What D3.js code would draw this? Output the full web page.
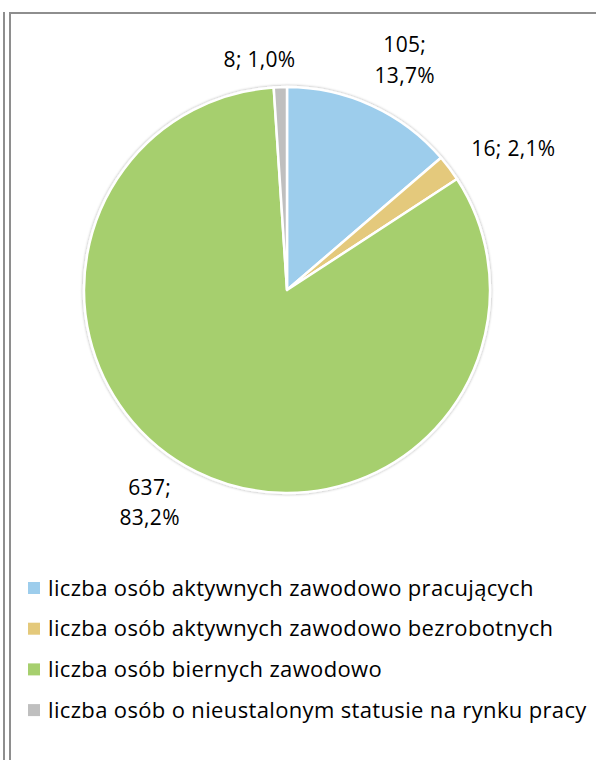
<!DOCTYPE html>
<html>
<head>
<meta charset="utf-8">
<script src="https://cdn.jsdelivr.net/npm/d3@7"></script>
<style>
  body { margin: 0; background: #fff; }
  svg text { font-family: "Open Sans", sans-serif; fill: #000; }
</style>
</head>
<body>
<div id="chart"></div>
<script>
var categories = [
	"liczba osób aktywnych zawodowo pracujących",
	"liczba osób aktywnych zawodowo bezrobotnych",
	"liczba osób biernych zawodowo",
	"liczba osób o nieustalonym statusie na rynku pracy"
];
var values = [105, 16, 637, 8];
var percentLabels = ["13,7%", "2,1%", "83,2%", "1,0%"];
var colors = ["#9DCDEC", "#E4C97B", "#A6CF6E", "#BFBFBF"];

var W = 597, H = 760;
var CX = 287, CY = 290, R = 203;
var LABEL_R = 258;

var svg = d3.select("#chart")
			.append("svg")
			.attr("width", W)
			.attr("height", H);

// frame lines
svg.append("line").attr("x1", 4).attr("x2", 4).attr("y1", 12).attr("y2", H)
	.style("stroke", "#8e8e8e").style("stroke-width", 2);
svg.append("line").attr("x1", 10).attr("x2", 10).attr("y1", 12).attr("y2", H)
	.style("stroke", "#8e8e8e").style("stroke-width", 2);
svg.append("line").attr("x1", 9).attr("x2", W - 1).attr("y1", 13).attr("y2", 13)
	.style("stroke", "#8e8e8e").style("stroke-width", 2);

var defs = svg.append("defs");
var f = defs.append("filter").attr("id", "shadow")
			.attr("x", "-10%").attr("y", "-10%").attr("width", "120%").attr("height", "120%");
f.append("feGaussianBlur").attr("in", "SourceAlpha").attr("stdDeviation", 1.5).attr("result", "b");
f.append("feComponentTransfer").attr("in", "b").attr("result", "b2")
	.append("feFuncA").attr("type", "linear").attr("slope", 0.35);
var m = f.append("feMerge");
m.append("feMergeNode").attr("in", "b2");
m.append("feMergeNode").attr("in", "SourceGraphic");

var pie = d3.pie().sort(null).value(function(d) { return d; });
var arcs = pie(values);
var arc = d3.arc().innerRadius(0).outerRadius(R);
var labelArc = d3.arc().innerRadius(LABEL_R).outerRadius(LABEL_R);

var g = svg.append("g")
			.attr("transform", "translate(" + CX + "," + CY + ")");

g.append("g").attr("filter", "url(#shadow)")
	.selectAll("path")
	.data(arcs)
	.enter().append("path")
	.attr("d", arc)
	.style("fill", function(d, i) { return colors[i]; })
	.style("stroke", "#fff")
	.style("stroke-width", 2.5)
	.style("stroke-linejoin", "round");

// label layout tweaks (excel "best fit" placement)
var wrapped = [true, false, true, false];
var nudge = [[10, 0], [20, 14], [-22, -23], [-19, 28]];

var labels = g.selectAll("text.lbl")
			.data(arcs)
			.enter().append("text")
			.attr("class", "lbl")
			.attr("text-anchor", "middle")
			.style("font-size", "21px")
			.style("letter-spacing", "0.3px")
			.attr("transform", function(d, i) {
				var c = labelArc.centroid(d);
				return "translate(" + (c[0] + nudge[i][0]) + "," + (c[1] + nudge[i][1]) + ")";
			});

labels.each(function(d, i) {
	var t = d3.select(this);
	if (wrapped[i]) {
		t.append("tspan").attr("x", 0).attr("dy", "-0.15em").text(values[i] + ";");
		t.append("tspan").attr("x", 0).attr("dy", "1.45em").text(percentLabels[i]);
	} else {
		t.append("tspan").attr("x", 0).attr("dy", "0.35em").text(values[i] + "; " + percentLabels[i]);
	}
});

// legend
var legend = svg.append("g").attr("transform", "translate(28,588)");
var item = legend.selectAll("g")
			.data(categories)
			.enter().append("g")
			.attr("transform", function(d, i) { return "translate(0," + (i * 40.7) + ")"; });
item.append("rect")
	.attr("x", 0).attr("y", -6).attr("width", 12).attr("height", 12)
	.style("fill", function(d, i) { return colors[i]; });
item.append("text")
	.attr("x", 20).attr("dy", "0.35em")
	.style("font-size", "22px")
	.style("letter-spacing", "0.35px")
	.text(function(d) { return d; });
</script>
</body>
</html>
